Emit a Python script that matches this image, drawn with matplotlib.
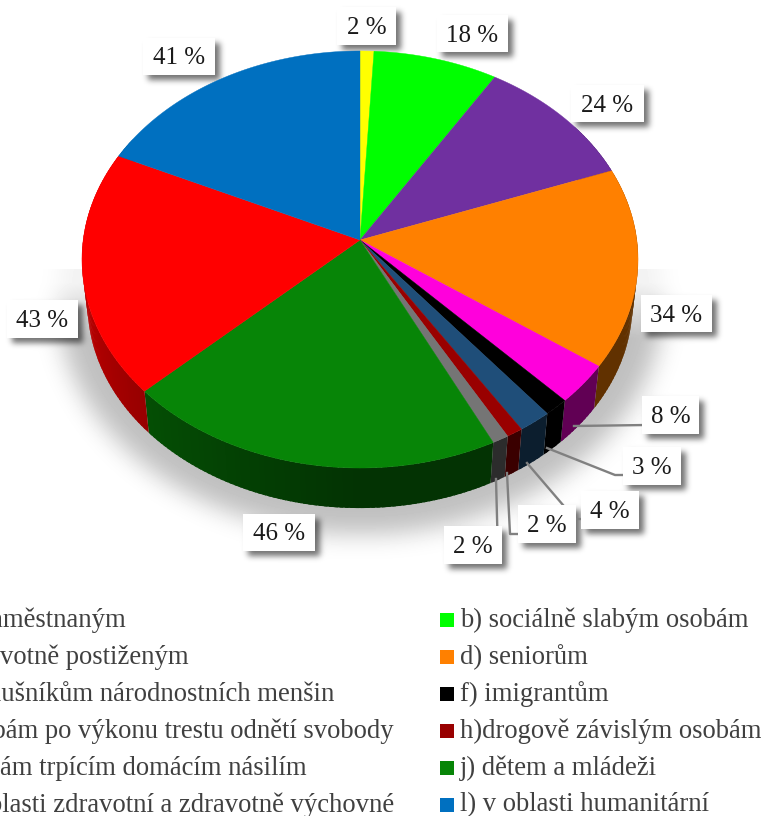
import matplotlib
matplotlib.use('Agg')
import matplotlib.pyplot as plt
from matplotlib.patches import Polygon, Rectangle
import numpy as np

# Data, clockwise from 12 o'clock
legend_labels = ['a) nezaměstnaným', 'b) sociálně slabým osobám',
                 'c) zdravotně postiženým', 'd) seniorům',
                 'e) příslušníkům národnostních menšin', 'f) imigrantům',
                 'g) osobám po výkonu trestu odnětí svobody', 'h)drogově závislým osobám',
                 'i) osobám trpícím domácím násilím', 'j) dětem a mládeži',
                 'k) v oblasti zdravotní a zdravotně výchovné', 'l) v oblasti humanitární']
# slice sizes, printed labels as written on it
values = [2, 18, 24, 35, 7, 3, 4, 2, 2, 46, 43, 41]
value_labels = ['2 %', '18 %', '24 %', '34 %', '8 %', '3 %', '4 %', '2 %', '2 %', '46 %', '43 %', '41 %']
colors = ['#FFFF00', '#00FF00', '#7030A0', '#FF8000', '#FF00DC', '#000000',
          '#1F4E79', '#990000', '#757575', '#078507', '#FF0000', '#0070C0']

# Label boxes in pixels: left, top, right, bottom
boxes = [(337, 7, 396, 45), (437, 15, 508, 52), (571, 85, 644, 122), (641, 295, 712, 332),
         (642, 396, 699, 434), (623, 447, 681, 485), (581, 491, 639, 529), (518, 505, 576, 543),
         (444, 526, 502, 564), (243, 514, 315, 551), (7, 300, 78, 338), (143, 38, 215, 75)]
# Leader lines for the small slices
leaders = {4: [(574, 426), (646, 425)],
           5: [(547, 448), (615, 475), (627, 475)],
           6: [(527, 463), (575, 519), (585, 519)],
           7: [(507, 473), (510, 534), (522, 534)],
           8: [(496, 479), (498, 555)]}

W, H = 761, 816
fig = plt.figure(figsize=(W / 100, H / 100), dpi=100)
ax = fig.add_axes([0, 0, 1, 1])
ax.set_xlim(0, W)
ax.set_ylim(H, 0)
ax.axis('off')


def project(theta, lower=False):
    # perspective view of the disc, theta clockwise from the top
    u, v = np.sin(theta), np.cos(theta)
    d = 1 + 0.0935 * v
    x = 360 + 276.8 * u / d
    y = 240 - 206.7 * v / d
    if lower:
        x = 360 + 0.98 * (x - 360)
        y = 240 + 0.98 * (y - 240) + 44.6
    return x, y


def blur(a, sigma):
    r = int(3 * sigma)
    k = np.exp(-0.5 * (np.arange(-r, r + 1) / sigma) ** 2)
    k = k / k.sum()
    a = np.array([np.convolve(row, k, mode='same') for row in a])
    a = np.array([np.convolve(col, k, mode='same') for col in a.T]).T
    return a


# soft shadows behind the pie and the label boxes
yy, xx = np.mgrid[0:H, 0:W]
pie_mask = (((xx - 360) / 303.0) ** 2 + ((yy - 300) / 234.0) ** 2 < 1).astype(float)
pie_shadow = blur(pie_mask, 12) * (yy > 268) * np.clip((yy - 268) / 70.0, 0.2, 1)
box_mask = np.zeros((H, W))
for l, t, r, b in boxes:
    box_mask[t + 5:b + 5, l + 5:r + 5] = 1
box_shadow = blur(box_mask, 3)
shade = (1 - 0.25 * pie_shadow) * (1 - 0.55 * box_shadow)
ax.imshow(shade, cmap='gray', vmin=0, vmax=1, extent=(0, W, H, 0), aspect='auto', zorder=0)
ax.set_xlim(0, W)
ax.set_ylim(H, 0)

# slice angles
cum = np.concatenate([[0], np.cumsum(values)]) / sum(values) * 2 * np.pi

# side wall, drawn in thin overlapping strips so the shading can change round the rim
for i, col in enumerate(colors):
    rgb = np.array(matplotlib.colors.to_rgb(col))
    n = max(int(np.degrees(cum[i + 1] - cum[i])), 2)
    th = np.linspace(cum[i], cum[i + 1], n + 1)
    for a, b in zip(th[:-1], th[1:]):
        mid = np.degrees((a + b) / 2)
        if mid < 55 or mid > 300:
            continue
        f = 0.38 if mid < 180 else 0.38 + 0.34 * min((mid - 180) / 75, 1)
        b2 = min(b + 0.012, cum[i + 1])
        arc = np.linspace(a, b2, 5)
        xt, yt = project(arc)
        xl, yl = project(arc[::-1], True)
        pts = list(zip(xt, yt)) + list(zip(xl, yl))
        ax.add_patch(Polygon(pts, closed=True, fc=rgb * f, ec='none', zorder=1))

# top face
for i, col in enumerate(colors):
    th = np.linspace(cum[i], cum[i + 1], max(int(np.degrees(cum[i + 1] - cum[i])), 2) + 1)
    x, y = project(th)
    pts = [(360, 240)] + list(zip(x, y))
    ax.add_patch(Polygon(pts, closed=True, fc=col, ec=col, lw=0.3, zorder=2))

# leader lines and value labels
for pts in leaders.values():
    ax.plot([p[0] for p in pts], [p[1] for p in pts], color='#808080', lw=1.7, zorder=3,
            solid_joinstyle='round')
for lab, (l, t, r, b) in zip(value_labels, boxes):
    ax.add_patch(Rectangle((l, t), r - l, b - t, fc='white', ec='none', zorder=4))
    ax.text((l + r) / 2, (t + b) / 2 + 2, lab, ha='center', va='center', fontsize=18,
            family='Liberation Serif', color='#1a1a1a', zorder=5)

# legend, the left column runs off the picture
row_y = [620, 657, 694, 731, 768, 805]
for i, (lab, col) in enumerate(zip(legend_labels, colors)):
    sx = -93 if i % 2 == 0 else 440
    ax.add_patch(Rectangle((sx, row_y[i // 2] - 7), 14, 14, fc=col, ec='none', clip_on=True, zorder=4))
    ax.text(sx + 20, row_y[i // 2], lab, ha='left', va='center', fontsize=19.2,
            family='Liberation Serif', color='#404040', zorder=5, clip_on=True)

fig.savefig('out.png', dpi=100)
